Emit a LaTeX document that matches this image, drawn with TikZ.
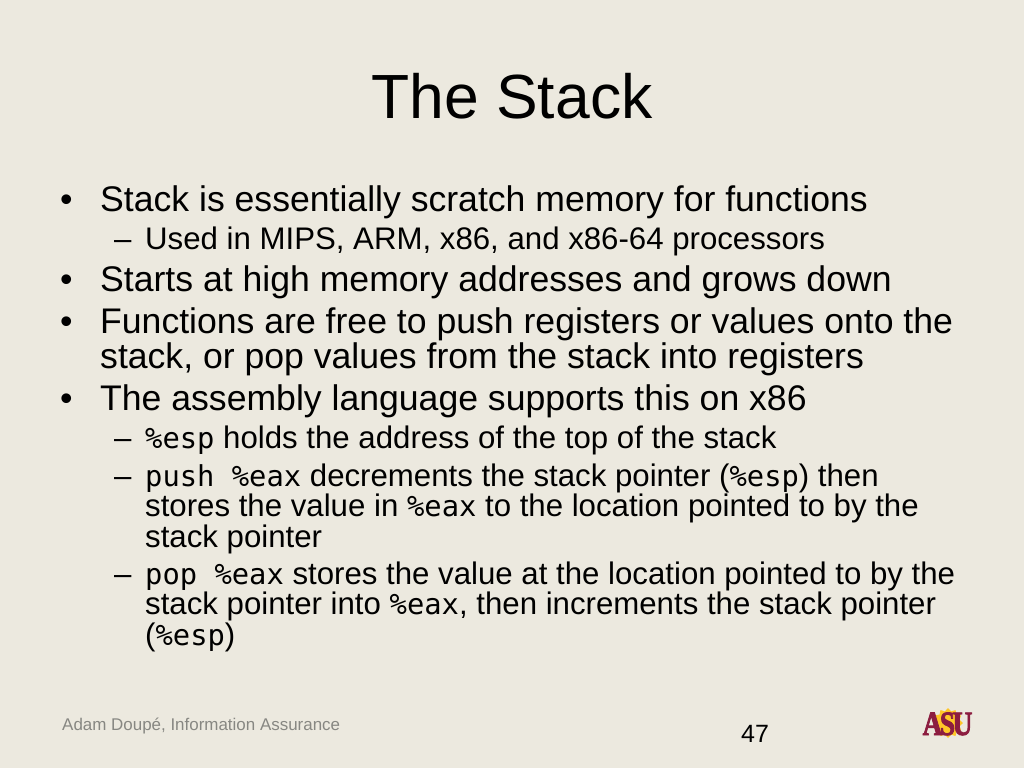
\documentclass[tikz,border=0pt]{standalone}
\usepackage{fontspec}
\usetikzlibrary{shapes.geometric}
\setmainfont{Liberation Sans}
\setmonofont{DejaVu Sans Mono}
\newfontfamily\logofont[FakeStretch=0.8,LetterSpace=-7,FakeBold=2.5]{Liberation Serif}
\newcommand{\codetext}[1]{{\fontsize{28.8}{28.8}\selectfont\texttt{#1}}}
\definecolor{slidebg}{RGB}{236,233,223}
\definecolor{footgray}{RGB}{135,135,130}
\definecolor{asured}{RGB}{140,29,64}
\definecolor{asugold}{RGB}{255,198,39}
\tikzset{
  titletext/.style={anchor=base, inner sep=0pt, font=\fontsize{62.4}{62.4}\selectfont},
  bigtext/.style={anchor=base west, inner sep=0pt, font=\fontsize{35.6}{35.6}\selectfont},
  smalltext/.style={anchor=base west, inner sep=0pt, font=\fontsize{31.2}{31.2}\selectfont},
  foottext/.style={anchor=base west, inner sep=0pt, text=footgray, font=\fontsize{16.95}{16.95}\selectfont},
}
\begin{document}
\begin{tikzpicture}[x=1pt,y=-1pt]
\fill[slidebg] (0,0) rectangle (1024,768);
\useasboundingbox (0,0) rectangle (1024,768);
\node (title) at (512,118) [titletext] {The Stack};
% first level
\node (b1) at (60,211) [bigtext] {•};
\node (t1) at (100,211) [bigtext] {Stack is essentially scratch memory for functions};
\node (d1) at (114,249) [smalltext] {–};
\node (s1) at (145,249) [smalltext] {Used in MIPS, ARM, x86, and x86-64 processors};
\node (b2) at (60,291) [bigtext] {•};
\node (t2) at (100,291) [bigtext] {Starts at high memory addresses and grows down};
\node (b3) at (60,333) [bigtext] {•};
\node (t3) at (100,333) [bigtext] {Functions are free to push registers or values onto the};
\node (t4) at (100,368) [bigtext] {stack, or pop values from the stack into registers};
\node (b4) at (60,410) [bigtext] {•};
\node (t5) at (100,410) [bigtext] {The assembly language supports this on x86};
% second level
\node (d2) at (114,448) [smalltext] {–};
\node (s2) at (145,448) [smalltext] {\codetext{\%esp} holds the address of the top of the stack};
\node (d3) at (114,486) [smalltext] {–};
\node (s3) at (145,486) [smalltext] {\codetext{push \%eax} decrements the stack pointer (\codetext{\%esp}) then};
\node (s4) at (145,516) [smalltext] {stores the value in \codetext{\%eax} to the location pointed to by the};
\node (s5) at (145,547) [smalltext] {stack pointer};
\node (d4) at (114,584) [smalltext] {–};
\node (s6) at (145,584) [smalltext] {\codetext{pop \%eax} stores the value at the location pointed to by the};
\node (s7) at (145,614) [smalltext] {stack pointer into \codetext{\%eax}, then increments the stack pointer};
\node (s8) at (145,645) [smalltext] {(\codetext{\%esp})};
% footer
\node (foot) at (62,730) [foottext] {Adam Doupé, Information Assurance};
\node (num) at (741,742) [anchor=base west, inner sep=0pt, font=\fontsize{25}{25}\selectfont] {47};
% logo
\node (sun) at (948,723) [star, star points=12, star point ratio=1.25, minimum size=30pt, inner sep=0pt, fill=asugold] {};
\node (logo) at (947.5,735) [anchor=base, inner sep=0pt, text=asured, font=\logofont\fontsize{34}{34}\selectfont\bfseries] {ASU};
\end{tikzpicture}
\end{document}
